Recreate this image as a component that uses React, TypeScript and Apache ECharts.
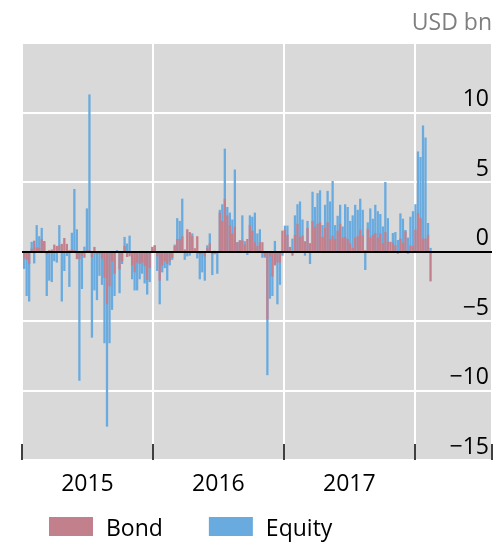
import React, { useEffect, useRef } from 'react';
import * as echarts from 'echarts';

// Weekly EME portfolio flows, USD bn (first week ending 2015-01-07)
const seriesNames = ['Bond', 'Equity'];
const firstWeek = [2015, 0, 7];
const bondFlows = [
  -0.5, -0.6, -0.9, 0.2, 0.78, 0.3, 0.26, 0.9, 0.74, -0.2,
  0.1, 0.15, 0.5, 0.4, 0.45, 0.55, 0.97, 0.55, 0.1, 0.15,
  0.1, -0.55, -0.55, -0.3, -0.45, 0.1, 0.1, -0.4, 0.33, -0.2,
  -0.15, -0.5, -1.9, -3.8, -2.5, -0.7, -1.6, -0.05, -1.3, -0.7,
  0.4, -0.4, -0.35, -1.0, -1.5, -0.8, -0.9, -0.8, -1.05, -2.05,
  -1.2, 0.33, 0.43, -0.35, -2.1, -1.0, -0.7, -0.9, -0.7, -0.45,
  0.4, 0.9, 0.9, 1.1, 0.15, 1.6, 1.4, 1.1, 0.24, 1.1,
  -0.2, -0.15, -0.35, 0.26, 0.6, -0.2, 0.05, -0.1, 2.8, 2.2,
  3.8, 2.6, 1.9, 1.3, 1.8, 0.67, 0.8, 0.8, 0.5, 0.9,
  1.9, 1.5, 0.67, 0.4, 0.67, 0.67, -0.35, -4.9, -0.35, -1.8,
  -1.0, -0.8, -0.8, 1.5, 1.57, 1.2, 0.33, -0.3, 1.2, 2.0,
  1.05, 1.14, 0.74, 1.7, 0.6, 2.2, 1.76, 2.0, 2.1, 1.05,
  1.7, 2.1, 0.9, 1.14, 0.9, 1.5, 2.0, 1.0, 1.05, 0.9,
  0.57, 0.26, 1.0, 1.1, 1.57, 1.17, 0.1, 1.64, 1.0, 1.2,
  1.33, 0.98, 1.3, 0.6, 1.4, 0.7, 0.7, 0.64, 0.45, -0.15,
  0.93, 0.64, 1.45, -0.15, 0.43, 0.4, 1.57, 2.76, 2.4, 0.93,
  0.93, 1.2, -2.15,
];
const equityFlows = [
  -1.25, -3.2, -3.6, 0.7, -0.86, 1.9, 1.1, 1.7, 0.74, -3.2,
  -2.1, -2.2, -0.7, -0.8, 1.9, -3.6, -1.4, -0.33, -2.55, 1.35,
  4.5, 1.6, -9.3, -2.7, 0.35, 3.1, 11.3, -6.2, -2.8, -3.5,
  -1.75, -2.4, -6.6, -12.6, -6.6, -4.2, -3.2, 0.1, -3.0, -0.9,
  1.05, 0.57, 1.14, -2.0, -2.8, -2.8, -2.0, -1.6, -2.3, -3.1,
  -2.2, 0.2, 0.45, -1.4, -3.8, -1.5, -1.2, -2.1, -1.0, -0.6,
  0.5, 2.4, 2.2, 3.8, -0.6, -0.35, -0.3, 1.3, 0.1, -0.5,
  -2.0, -1.5, -2.1, 0.45, 1.3, -1.7, -0.2, -1.6, 3.0, 3.4,
  7.4, 3.2, 2.8, 2.3, 5.9, 0.67, 0.8, 2.6, 0.74, -0.25,
  2.6, 2.5, 2.8, 1.3, 1.6, -0.45, -0.45, -8.9, -3.4, -3.2,
  0.76, -3.8, -2.4, -0.3, 1.86, 1.86, 0.33, 0.93, 2.6, 3.4,
  3.6, 2.3, -0.3, 2.2, -0.9, 4.3, 3.2, 4.2, 4.4, 1.9,
  3.36, 4.36, 3.6, 5.07, 1.9, 2.57, 3.36, 1.8, 3.4, 3.2,
  2.2, 2.6, 3.36, 3.0, 3.8, 3.0, -1.33, 2.1, 3.1, 2.36,
  3.36, 2.9, 2.7, 1.8, 5.0, 2.4, -0.1, 1.33, 1.4, 0.83,
  2.74, 2.36, 1.55, 1.0, 2.5, 2.9, 3.4, 7.2, 6.8, 9.07,
  8.2, 2.05, 0.26,
];
const yearLabels = ['2015', '2016', '2017'];
const yMin = -15;
const yMax = 15;
const yStep = 5;
const xMinYear = 2015;
const xMaxYear = 2018.59;
const unitLabel = 'USD bn';

const BOND_COLOR = '#c2808d';
const EQUITY_COLOR = '#6aabdf';
const FONT = 'Open Sans';

function toDecimalYear(t: number): number {
  const d = new Date(t);
  const y = d.getUTCFullYear();
  const a = Date.UTC(y, 0, 1);
  const b = Date.UTC(y + 1, 0, 1);
  return y + (t - a) / (b - a);
}

const weekX: number[] = bondFlows.map((_, i) =>
  toDecimalYear(Date.UTC(firstWeek[0], firstWeek[1], firstWeek[2]) + i * 7 * 86400000)
);

const fmtNum = (v: number) => String(v).replace('-', '\u2212');

export default function App() {
  const ref = useRef<HTMLDivElement>(null);
  useEffect(() => {
    if (!ref.current) return;
    const chart = echarts.init(ref.current, null, { renderer: 'svg' });
    const option: any = {
      animation: false,
      textStyle: { fontFamily: FONT },
      title: {
        text: unitLabel,
        right: 3,
        top: 9,
        padding: 0,
        textStyle: { fontSize: 23, fontWeight: 'normal', color: '#7f7f7f', fontFamily: FONT },
      },
      legend: {
        data: seriesNames,
        left: 49,
        top: 515,
        padding: 0,
        itemWidth: 44,
        itemHeight: 19,
        itemGap: 46,
        icon: 'rect',
        textStyle: { fontSize: 23, color: '#000', fontFamily: FONT, padding: [0, 0, 0, 8] },
      },
      grid: {
        left: 22,
        right: 0,
        top: 43,
        bottom: 82,
        show: true,
        backgroundColor: '#d9d9d9',
        borderWidth: 0,
      },
      xAxis: [
        {
          type: 'value',
          min: xMinYear,
          max: xMaxYear,
          interval: 0.5,
          position: 'bottom',
          axisLine: { show: false, onZero: false },
          axisTick: { show: false },
          splitLine: { show: false },
          axisLabel: {
            fontSize: 23,
            color: '#000',
            fontFamily: FONT,
            margin: 10,
            formatter: (v: number) => {
              const y = Math.floor(v);
              if (Math.abs(v - y - 0.5) < 1e-6) {
                const s = String(y);
                return yearLabels.indexOf(s) >= 0 ? s : '';
              }
              return '';
            },
          },
        },
        {
          type: 'value',
          min: xMinYear,
          max: xMaxYear,
          interval: 1,
          position: 'bottom',
          axisLine: { show: false, onZero: false },
          axisTick: { show: true, inside: true, length: 16, lineStyle: { color: '#000', width: 1.5 } },
          axisLabel: { show: false },
          splitLine: { show: true, lineStyle: { color: '#ffffff', width: 2 } },
        },
      ],
      yAxis: {
        type: 'value',
        min: yMin,
        max: yMax,
        interval: yStep,
        position: 'right',
        axisLine: { show: false },
        axisTick: { show: false },
        splitLine: { show: true, lineStyle: { color: '#ffffff', width: 2 } },
        axisLabel: {
          inside: true,
          margin: 3,
          fontSize: 23,
          color: '#000',
          fontFamily: FONT,
          verticalAlign: 'bottom',
          padding: [0, 0, 4, 0],
          formatter: (v: number) => (v === yMax ? '' : fmtNum(v)),
        },
      },
      series: [
        {
          name: 'Equity',
          type: 'bar',
          xAxisIndex: 0,
          barWidth: 2.3,
          barGap: '-100%',
          itemStyle: { color: EQUITY_COLOR },
          data: equityFlows.map((v, i) => [weekX[i], v]),
        },
        {
          name: 'Bond',
          type: 'bar',
          xAxisIndex: 0,
          barWidth: 2.3,
          barGap: '-100%',
          itemStyle: { color: BOND_COLOR },
          data: bondFlows.map((v, i) => [weekX[i], v]),
          markLine: {
            silent: true,
            symbol: 'none',
            label: { show: false },
            lineStyle: { color: '#000', width: 2, type: 'solid' },
            data: [{ yAxis: 0 }],
          },
        },
      ],
    };
    chart.setOption(option);
    return () => chart.dispose();
  }, []);
  return (
    <div
      ref={ref}
      style={{ position: 'fixed', left: 0, top: 0, width: 495, height: 542 }}
    />
  );
}
